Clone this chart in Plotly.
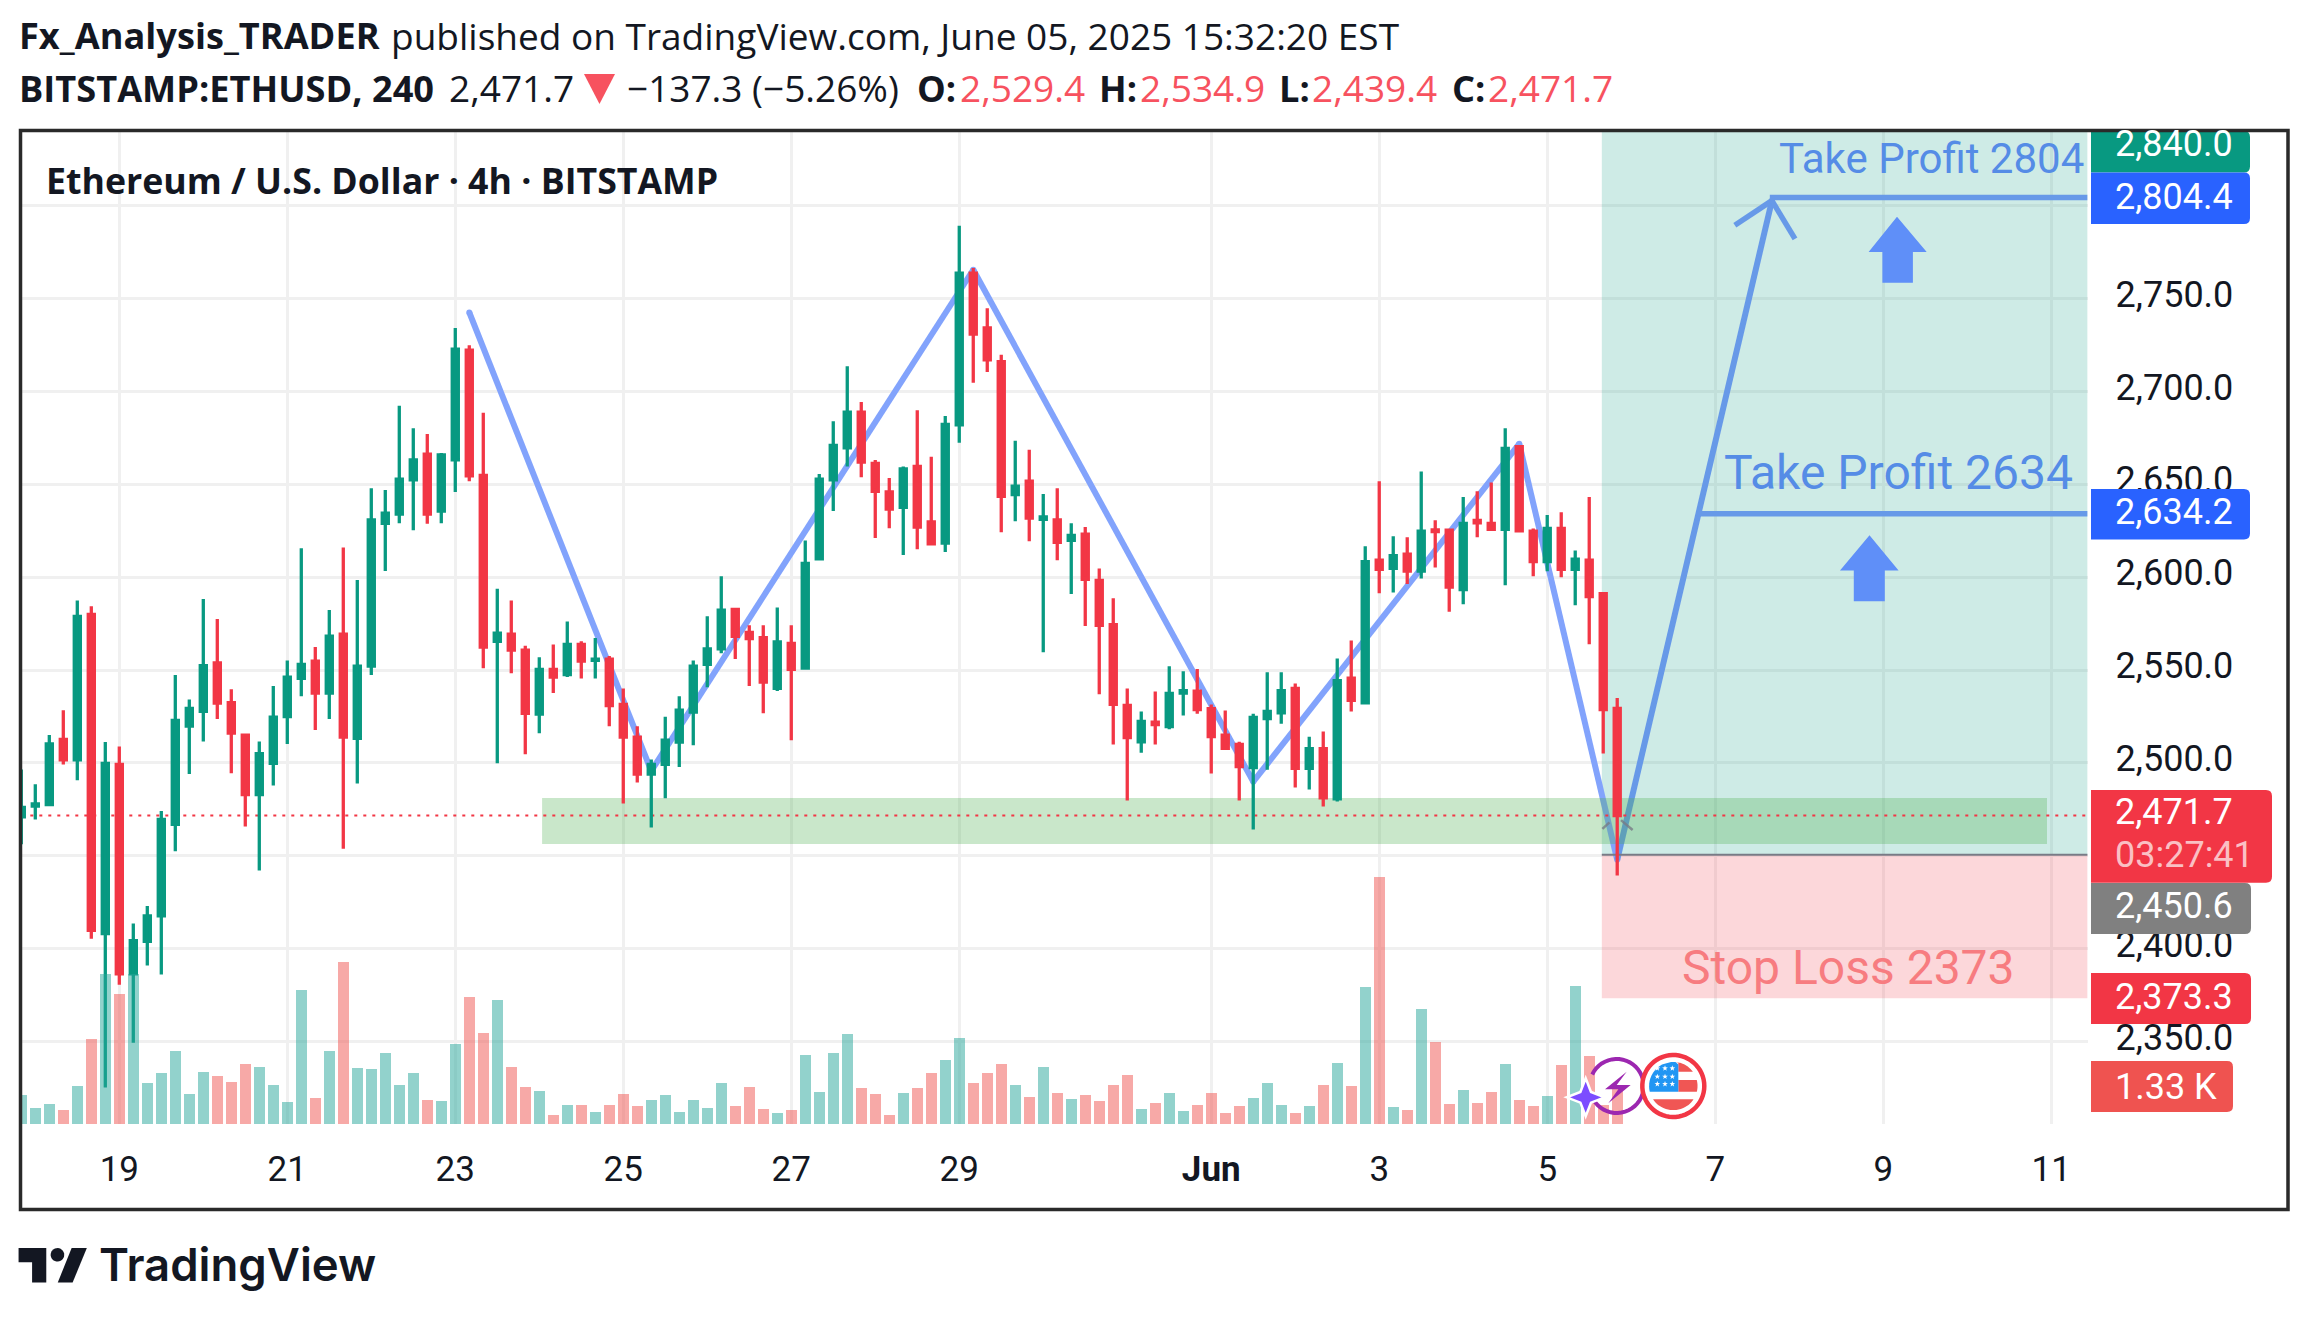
import numpy as np
import pandas as pd
import plotly.graph_objects as go

# ---------- data ----------
START = "2025-05-17 20:00"
OPEN = [2471.0,2476.8,2477.5,2512.6,2501.6,2579.9,2408.1,2499.2,2386.5,2404.0,2417.7,2466.9,2519.8,2527.7,2553.8,2532.5,
        2515.0,2483.0,2499.8,2524.9,2545.5,2554.8,2537.6,2569.3,2513.2,2552.1,2629.0,2633.9,2652.4,2666.2,2635.6,2663.1,
        2722.2,2654.8,2565.5,2569.3,2560.7,2526.3,2550.4,2547.6,2563.8,2555.2,2555.9,2531.5,2513.9,2494.0,2499.2,2511.2,
        2527.3,2553.1,2561.4,2582.6,2570.3,2567.5,2540.1,2564.4,2551.0,2609.8,2652.4,2669.6,2688.8,2661.3,2645.9,2637.6,
        2659.6,2629.7,2618.4,2682.0,2763.7,2734.2,2716.0,2644.5,2651.7,2631.1,2630.8,2619.8,2623.2,2598.3,2574.5,2531.0,
        2511.4,2522.0,2519.6,2537.6,2538.6,2529.2,2514.9,2509.9,2497.5,2523.8,2527.0,2540.1,2497.1,2507.7,2480.7,2545.6,
        2532.4,2609.2,2604.7,2612.4,2603.2,2625.5,2625.3,2593.3,2630.5,2629.0,2625.8,2670.3,2624.8,2608.4,2626.2,2604.2,
        2609.2,2591.1,2529.4]
HIGH = [2496.4,2488.5,2515.0,2528.4,2587.5,2584.4,2511.2,2508.8,2413.6,2422.9,2474.1,2547.3,2534.2,2588.2,2577.5,2539.7,
        2515.0,2511.5,2541.4,2555.2,2615.6,2562.4,2582.3,2616.0,2598.5,2647.9,2646.9,2692.3,2680.2,2677.1,2666.8,2734.2,
        2724.9,2688.5,2593.7,2587.5,2563.1,2556.9,2563.8,2576.1,2565.5,2567.2,2557.6,2540.1,2519.8,2501.9,2524.9,2535.9,
        2555.2,2578.9,2600.5,2582.6,2574.1,2574.1,2583.7,2574.1,2619.8,2655.5,2684.0,2713.6,2694.3,2663.1,2653.4,2659.6,
        2689.9,2664.8,2686.8,2789.2,2766.5,2744.8,2719.8,2673.4,2668.6,2644.8,2647.9,2629.0,2627.0,2604.7,2588.6,2540.1,
        2527.7,2538.4,2552.0,2549.3,2550.5,2531.5,2528.2,2511.4,2526.5,2548.8,2548.8,2542.8,2514.1,2516.9,2556.2,2565.9,
        2616.6,2651.7,2622.0,2621.5,2656.9,2630.7,2625.3,2643.1,2646.3,2651.0,2680.2,2670.5,2626.2,2633.4,2634.9,2614.4,
        2643.1,2591.8,2534.9]
LOW = [2456.2,2469.6,2477.5,2499.2,2490.6,2405.4,2325.3,2380.6,2349.4,2390.9,2386.1,2452.4,2494.0,2511.5,2523.6,2494.4,
       2465.8,2442.1,2487.8,2510.2,2535.9,2517.7,2523.6,2453.8,2488.9,2547.3,2603.3,2629.0,2625.3,2628.7,2629.0,2645.9,
       2651.7,2551.0,2499.8,2548.3,2504.7,2516.0,2537.6,2546.2,2545.5,2545.5,2519.8,2478.2,2489.5,2465.2,2481.0,2497.8,
       2509.5,2540.7,2559.0,2555.9,2541.4,2526.7,2538.7,2512.2,2550.4,2609.8,2635.6,2659.6,2653.8,2621.1,2626.3,2611.9,
       2615.0,2617.4,2613.6,2672.3,2704.6,2710.5,2624.2,2630.1,2619.4,2559.6,2609.1,2590.9,2573.7,2536.9,2509.9,2479.7,
       2505.5,2509.9,2518.1,2525.5,2526.5,2494.3,2507.7,2479.7,2464.1,2496.3,2521.1,2486.7,2485.7,2476.5,2479.2,2527.7,
       2532.4,2591.3,2591.8,2596.3,2599.3,2605.2,2581.4,2585.4,2621.5,2625.8,2595.6,2624.3,2600.5,2603.2,2600.0,2584.9,
       2563.9,2505.0,2439.4]
CLOSE = [2476.1,2477.9,2510.2,2501.6,2578.9,2409.8,2499.8,2386.5,2404.3,2417.7,2469.6,2522.9,2529.4,2552.4,2532.2,2516.0,
         2483.0,2505.0,2524.6,2546.2,2553.1,2537.6,2568.2,2513.9,2552.1,2630.8,2634.5,2652.8,2663.1,2633.9,2665.8,2722.8,
         2654.5,2562.4,2569.9,2560.7,2526.7,2550.4,2546.2,2563.8,2554.8,2555.9,2530.8,2513.9,2494.0,2499.2,2512.2,2528.4,
         2552.1,2561.4,2582.3,2568.2,2566.9,2543.5,2565.1,2550.4,2607.4,2652.8,2671.0,2688.8,2662.0,2646.2,2636.6,2658.3,
         2627.0,2618.0,2682.3,2763.7,2730.8,2717.0,2643.5,2649.0,2631.8,2632.5,2618.7,2622.5,2598.8,2574.0,2531.5,2513.6,
         2522.3,2520.6,2537.4,2538.9,2528.7,2514.1,2507.9,2498.0,2524.5,2527.7,2538.9,2497.1,2507.7,2481.2,2544.3,2533.7,
         2608.4,2604.2,2611.6,2603.2,2624.8,2624.5,2594.6,2629.0,2629.2,2625.8,2669.3,2625.0,2608.4,2626.2,2604.2,2609.7,
         2589.6,2528.7,2471.7]
VOLUME_K = [1.03,0.57,0.71,0.50,1.35,3.05,5.39,4.68,5.39,1.47,1.83,2.61,1.08,1.86,1.72,1.51,2.16,2.04,1.42,0.78,4.82,0.92,
            2.61,5.83,2.02,1.97,2.55,1.42,1.83,0.85,0.83,2.87,4.56,3.26,4.45,2.04,1.33,1.17,0.32,0.69,0.69,0.44,0.69,1.08,
            0.64,0.85,1.03,0.44,0.85,0.57,1.47,0.64,1.33,0.53,0.39,0.50,2.50,1.15,2.55,3.23,1.28,1.08,0.32,1.10,1.28,1.83,
            2.29,3.10,1.47,1.83,2.16,1.42,0.96,2.04,1.10,0.89,1.03,0.83,1.40,1.77,0.55,0.76,1.12,0.48,0.69,1.12,0.40,0.64,
            0.94,1.49,0.69,0.40,0.64,1.40,2.20,1.37,4.94,8.89,0.61,0.51,4.15,2.96,0.73,1.22,0.76,1.16,2.17,0.88,0.64,1.01,
            2.13,4.98,2.43,0.70,1.33]
TICK_DATES = ["2025-05-19","2025-05-21","2025-05-23","2025-05-25","2025-05-27","2025-05-29","2025-06-01","2025-06-03",
              "2025-06-05","2025-06-07","2025-06-09","2025-06-11"]
TICK_TEXT = ["19","21","23","25","27","29","<b>Jun</b>","3","5","7","9","11"]
PRICE_TICKS = [2350,2400,2450,2500,2550,2600,2650,2700,2750,2800]
PRICE_TEXT = ["2,350.0","2,400.0","","2,500.0","2,550.0","2,600.0","2,650.0","2,700.0","2,750.0",""]

# drawings: bar index and price
PATTERN_IDX = [32,45,68,88,107,114]
PATTERN_PRICE = [2742.5,2495.7,2765.5,2489.9,2671.8,2447.8]
UP_IDX = [114,125.05]
UP_PRICE = [2447.8,2802.7]
LAST_PRICE = 2471.7
ENTRY = 2450.6
STOP = 2373.3
TP1 = 2634.2
TP2 = 2804.4
TOP_PRICE = 2840.0
ZONE = [2456.4,2481.1]

UP = "#089981"; DOWN = "#F23645"
W, H = 2307, 1320
base = pd.Timestamp(START)
def D(i):
    return (base + pd.Timedelta(hours=4*float(i))).strftime("%Y-%m-%d %H:%M:%S")
X = [D(i) for i in range(len(OPEN))]
def px(v): return v/W
def py(v): return 1-v/H
def P(pts, close=True):
    s = "M " + " L ".join(f"{px(a):.5f},{py(b):.5f}" for a,b in pts)
    return s + (" Z" if close else "")
def roundbox(x0,y0,x1,y1,c,r=6):
    p=f"M {px(x0):.5f},{py(y0):.5f} L {px(x1-r):.5f},{py(y0):.5f} Q {px(x1):.5f},{py(y0):.5f} {px(x1):.5f},{py(y0+r):.5f} L {px(x1):.5f},{py(y1-r):.5f} Q {px(x1):.5f},{py(y1):.5f} {px(x1-r):.5f},{py(y1):.5f} L {px(x0):.5f},{py(y1):.5f} Z"
    return dict(type="path",xref="paper",yref="paper",path=p,fillcolor=c,line=dict(width=0),layer="above")
def poly(pts,c,line=None,lw=0):
    return dict(type="path",xref="paper",yref="paper",path=P(pts),fillcolor=c,line=dict(width=lw,color=line or c),layer="above")
def arc(cx,cy,r,a0,a1,n=40):
    return [(cx+r*np.cos(np.radians(a)),cy-r*np.sin(np.radians(a))) for a in np.linspace(a0,a1,n)]
def band(cx,cy,r,y0,y1,x0=-1e9,x1=1e9):
    ys=np.linspace(y0,y1,12)
    s=np.sqrt(np.maximum(r*r-(ys-cy)**2,0))
    right=[(min(x1,cx+a),y) for a,y in zip(s,ys)]
    left=[(max(x0,cx-a),y) for a,y in zip(s,ys)][::-1]
    return right+left

fig = go.Figure()
fig.add_bar(x=X, y=VOLUME_K, yaxis="y2", width=4*3600*1000*0.79,
            marker=dict(color=["rgba(38,166,154,0.5)" if c>=o else "rgba(239,83,80,0.5)" for o,c in zip(OPEN,CLOSE)],line=dict(width=0)),
            hoverinfo="skip")
fig.add_candlestick(x=X, open=OPEN, high=HIGH, low=LOW, close=CLOSE, whiskerwidth=0,
                    increasing=dict(line=dict(color=UP,width=3.3),fillcolor=UP),
                    decreasing=dict(line=dict(color=DOWN,width=3.3),fillcolor=DOWN))

IDX_END = 147.6
shapes = []
def seg(i0,p0,i1,p1,c,w,dash="solid",layer="between"):
    shapes.append(dict(type="line",x0=D(i0),x1=D(i1),y0=p0,y1=p1,xref="x",yref="y",line=dict(color=c,width=w,dash=dash),layer=layer))
def rect(i0,i1,p0,p1,c):
    shapes.append(dict(type="rect",x0=D(i0),x1=D(i1),y0=p0,y1=p1,xref="x",yref="y",fillcolor=c,line=dict(width=0),layer="between"))
def dot(i,p,c,r):
    shapes.append(dict(type="circle",xref="x",yref="y",xsizemode="pixel",ysizemode="pixel",xanchor=D(i),yanchor=p,
                       x0=-r,x1=r,y0=-r,y1=r,fillcolor=c,line=dict(width=0),layer="between"))
rect(112.9,IDX_END,ENTRY,TOP_PRICE+5,"rgba(8,153,129,0.2)")
rect(112.9,IDX_END,STOP,ENTRY,"rgba(242,54,69,0.2)")
PC="rgb(130,163,252)"
for a,b,c,d in zip(PATTERN_IDX[:-1],PATTERN_PRICE[:-1],PATTERN_IDX[1:],PATTERN_PRICE[1:]):
    seg(a,b,c,d,PC,6)
for a,b in zip(PATTERN_IDX,PATTERN_PRICE):
    dot(a,b,PC,3)
BL="rgb(103,153,232)"
seg(UP_IDX[0],UP_PRICE[0],UP_IDX[1],UP_PRICE[1],BL,6)
seg(122.4,2789.5,UP_IDX[1],UP_PRICE[1],BL,5.5)
seg(126.7,2782.1,UP_IDX[1],UP_PRICE[1],BL,5.5)
dot(UP_IDX[1],UP_PRICE[1],BL,2.8)
seg(124.9,TP2,IDX_END,TP2,BL,5.5)
seg(119.76,TP1,IDX_END,TP1,BL,5.5)
rect(37.2,144.7,ZONE[0],ZONE[1],"rgba(76,175,80,0.3)")
seg(0,LAST_PRICE,IDX_END,LAST_PRICE,DOWN,2,"3px,6px")
seg(112.9,ENTRY,IDX_END,ENTRY,"#787B86",2)
seg(112.94,2464.5,113.45,2468.0,"rgba(120,123,134,0.8)",2.5)
seg(114.27,2469.2,115.1,2463.9,"rgba(120,123,134,0.8)",2.5)

# big arrows
for tip,wing,l,r,sl,sr,bot,tx in [(216.8,251.9,1868.6,1926.7,1882.4,1912.9,282.7,1897),(535.3,570.4,1840,1898.6,1853.8,1884.8,601.2,1869.5)]:
    shapes.append(poly([(tx,tip),(r,wing),(sr,wing),(sr,bot),(sl,bot),(sl,wing),(l,wing)],"#5F8FF8"))
# header triangle
shapes.append(poly([(584,74),(615,74),(599.5,104)],"#F7525F"))
# price labels
for y0,y1,x1,c in [(131,172.6,2250,UP),(172.6,224,2250,"#2962FF"),(489,539.5,2250,"#2962FF"),(790,882.7,2272,DOWN),
                   (883,934,2251,"#808080"),(973,1024,2251,DOWN),(1061,1112,2233,"#EF5350")]:
    shapes.append(roundbox(2091,y0,x1,y1,c))
# icons
cx,cy=1616.7,1086
shapes.append(dict(type="path",xref="paper",yref="paper",path=P(arc(cx,cy,27,155,-150),False),line=dict(color="#9C27B0",width=4),layer="above"))
shapes.append(poly([(1550+a/3,1040+b/3) for a,b in [(230,95),(165,148),(205,148),(175,190),(242,135),(200,135)]],"#9C27B0"))
sc=(1585.7,1097.3)
star4=[]
for k in range(8):
    r=19 if k%2==0 else 7.5
    star4.append((sc[0]+r*np.cos(k*np.pi/4),sc[1]+r*np.sin(k*np.pi/4)))
shapes.append(poly(star4,"#7C4DFF","#ffffff",2.5))
cx,cy=1673.3,1086
shapes.append(poly(arc(cx,cy,31,0,360,60),"#ffffff",DOWN,4.5))
r=24.2
red="#F05654"
shapes.append(poly(band(cx,cy,r,1099.3,1110),red))
shapes.append(poly(band(cx,cy,r,1080,1091.7,x0=1678.3),red))
shapes.append(poly(band(cx,cy,r,1061.9,1071.7,x0=1678.3),red))
shapes.append(poly(band(cx,cy,r,1061.9,1091.7,x1=1678.3),"#2196F3"))
for a in (322,345,367):
    for b in (85,110,132):
        c0=(1550+a/3,1040+b/3)
        pts=[]
        for k in range(10):
            rr=3 if k%2==0 else 1.2
            th=-np.pi/2+k*np.pi/5
            pts.append((c0[0]+rr*np.cos(th),c0[1]+rr*np.sin(th)))
        shapes.append(poly(pts,"#ffffff"))
# logo
LOGO="#131722"
z=2.96
def L(a,b): return (a/z,1220+b/z)
shapes.append(poly([L(55,83),L(137,83),L(137,185),L(95,185),L(95,125),L(55,125)],LOGO))
shapes.append(poly([L(212,83),L(257,83),L(215,185),L(171,185)],LOGO))
shapes.append(poly(arc(170/z,1220+103/z,20/z,0,360,30),LOGO))
# frame
shapes.append(dict(type="rect",xref="paper",yref="paper",x0=px(20.5),x1=px(2288),y0=py(1209.5),y1=py(130.6),line=dict(color="#2A2A2A",width=3.5),fillcolor="rgba(0,0,0,0)",layer="above"))

annos=[]
def T(x,y,text,size,color="#131722",family="Roboto",anchor="left",weight=None):
    f=dict(family=family,size=size,color=color)
    if weight: f["weight"]=weight
    annos.append(dict(xref="paper",yref="paper",x=px(x),y=py(y),text=text,showarrow=False,xanchor=anchor,yanchor="middle",font=f,borderpad=0,borderwidth=0))
R='#F7525F'
HF="Open Sans"
HS=37
HB=36.2
T(19,35.5,'<b>Fx_Analysis_TRADER</b>',HB,family=HF)
T(391,35.5,'published on TradingView.com, June 05, 2025 15:32:20 EST',HS,family=HF)
T(19,87.5,'<b>BITSTAMP:ETHUSD, 240</b>',HB,family=HF)
T(449,87.5,'2,471.7',HS,family=HF)
T(626.5,87.5,'−137.3 (−5.26%)',HS,family=HF)
for xl,l,xv,v in [(916.5,'O:',959.6,'2,529.4'),(1098.5,'H:',1140,'2,534.9'),(1279,'L:',1312,'2,439.4'),(1451.6,'C:',1487.7,'2,471.7')]:
    T(xl,87.5,f'<b>{l}</b>',HB,family=HF)
    T(xv,87.5,v,HS,R,family=HF)
T(46,180,'<b>Ethereum / U.S. Dollar · 4h · BITSTAMP</b>',35.7,family=HF)
T(1779,158.5,'Take Profit 2804',42,"rgb(85,140,230)")
T(1724,472.5,'Take Profit 2634',48,"rgb(85,140,230)")
T(1682,967,'Stop Loss 2373',48,"rgb(247,124,128)")
for y,t,c in [(143.5,'2,840.0','#fff'),(196.5,'2,804.4','#fff'),(512.5,'2,634.2','#fff'),(812,'2,471.7','#fff'),(855,'03:27:41','rgba(255,255,255,0.7)'),
              (905.5,'2,450.6','#fff'),(996.5,'2,373.3','#fff'),(1086.5,'1.33 K','#fff')]:
    T(2115,y,t,36,c)
T(99,1264,'TradingView',45.5,LOGO,family="Inter",weight=600)

fig.update_layout(
    width=W,height=H,margin=dict(l=0,r=0,t=0,b=0),autosize=False,
    paper_bgcolor="#fff",plot_bgcolor="#fff",showlegend=False,boxgap=0.38,bargap=0,
    font=dict(family="Roboto",color="#131722"),
    xaxis=dict(domain=[px(21.5),px(2087.6)],range=[D(0.014),D(IDX_END)],type="date",rangeslider=dict(visible=False),
               tickmode="array",tickvals=TICK_DATES,ticktext=TICK_TEXT,showgrid=True,gridcolor="#F0F0F0",gridwidth=3,
               tickfont=dict(size=35,family="Roboto",color="#131722"),ticks="",showline=False,zeroline=False,ticklabelstandoff=21,anchor="y"),
    yaxis=dict(domain=[py(1124),py(131)],range=[2305.6,2840.2],side="right",tickmode="array",tickvals=PRICE_TICKS,ticktext=PRICE_TEXT,showgrid=True,
               gridcolor="#F0F0F0",gridwidth=3,ticks="",showline=False,zeroline=False,ticklabelstandoff=27,anchor="x",
               tickfont=dict(size=36,family="Roboto",color="#131722")),
    yaxis2=dict(domain=[py(1124),py(131)],range=[0,35.72],overlaying="y",visible=False,anchor="x"),
    shapes=shapes,annotations=annos)
post = '''
document.body.style.margin="0";document.body.style.overflow="hidden";
var shiftTicks=function(){document.querySelectorAll(".yaxislayer-above .ytick text").forEach(function(t){
 if(!t.dataset.sh){t.dataset.sh=1;t.setAttribute("y",parseFloat(t.getAttribute("y")||0)-4.5);}});};
shiftTicks();var gd=document.getElementById("{plot_id}");if(gd&&gd.on){gd.on("plotly_afterplot",shiftTicks);}
'''
fig.write_html("out.html",post_script=post,config=dict(displayModeBar=False))
